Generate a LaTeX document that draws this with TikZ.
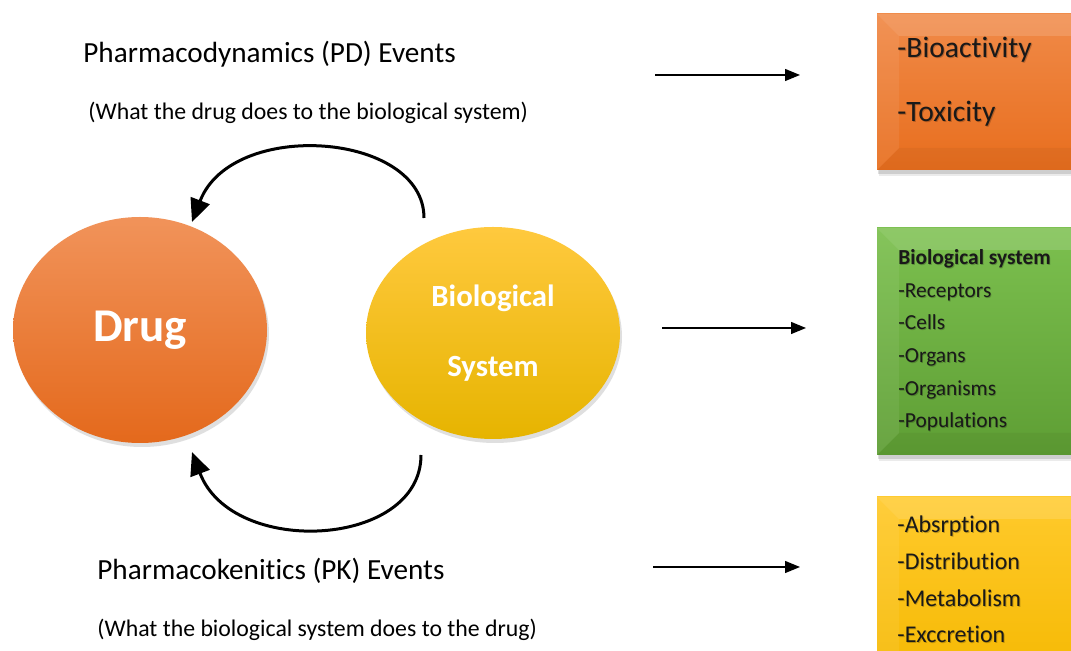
\documentclass[tikz,border=0pt]{standalone}
\usepackage{fontspec}
\setmainfont{Carlito}[RawFeature={-liga;-clig;-calt;-dlig}]
\usetikzlibrary{arrows.meta,shapes.geometric,shadows}

\definecolor{drugTop}{HTML}{F1935A}
\definecolor{drugMid}{HTML}{EE7A2E}
\definecolor{drugBot}{HTML}{E4691C}
\definecolor{bioTop}{HTML}{FFC93E}
\definecolor{bioMid}{HTML}{FFC000}
\definecolor{bioBot}{HTML}{E6B400}
\definecolor{pdTop}{HTML}{F08A48}
\definecolor{pdBot}{HTML}{E86E1E}
\definecolor{sysTop}{HTML}{7CC04F}
\definecolor{sysBot}{HTML}{5E9E34}
\definecolor{pkTop}{HTML}{FFCA2C}
\definecolor{pkBot}{HTML}{F5B800}

\tikzset{
  heading/.style={anchor=base west,inner sep=0pt,font=\fontsize{14.6}{17}\selectfont},
  subheading/.style={anchor=base west,inner sep=0pt,font=\fontsize{11.9}{14}\selectfont},
  flow/.style={line width=0.65pt,-{Triangle[length=7.5pt,width=6pt]}},
  cycle arrow/.style={line width=1.5pt,-{Triangle[length=11.5pt,width=10pt]}},
  blob/.style={ellipse,inner sep=0pt,text=white,
    drop shadow={opacity=0.25,shadow xshift=1pt,shadow yshift=-2pt}},
  boxtext/.style={anchor=base west,inner sep=0pt,text=black!90},
  boxshadow/.style={anchor=base west,inner sep=0pt,text=black,text opacity=0.22},
}

% Bevelled panel: x1 y1 x2 y2 (y grows downward), top colour, bottom colour
\newcommand{\bevelpanel}[6]{%
  \fill[black,opacity=0.08] (#1+2,#2+2) rectangle (#3+5,#4+6);
  \fill[black,opacity=0.12] (#1+1,#2+1) rectangle (#3+3,#4+4);
  \shade[top color=#5,bottom color=#6] (#1,#2) rectangle (#3,#4);
  \fill[white,opacity=0.14] (#1,#2) -- (#3,#2) -- (#3-22,#2+22) -- (#1+22,#2+22) -- cycle;
  \fill[white,opacity=0.07] (#1,#2) -- (#1+22,#2+22) -- (#1+22,#4-22) -- (#1,#4) -- cycle;
  \fill[white,opacity=0.04] (#3,#2) -- (#3-22,#2+22) -- (#3-22,#4-22) -- (#3,#4) -- cycle;
  \fill[black,opacity=0.04] (#1,#4) -- (#1+22,#4-22) -- (#3-22,#4-22) -- (#3,#4) -- cycle;
}

\begin{document}
\begin{tikzpicture}[x=0.5pt,y=-0.5pt]
\useasboundingbox (0,0) rectangle (1071,651);
\clip (0,0) rectangle (1071,651);
\fill[white] (0,0) rectangle (1071,651);

% headings on the left
\node[heading] (pdTitle) at (83,63) {Pharmacodynamics (PD) Events};
\node[subheading] (pdNote) at (88,120) {(What the drug does to the biological system)};
\node[heading] (pkTitle) at (97,580) {Pharmacokenitics (PK) Events};
\node[subheading] (pkNote) at (97,637) {(What the biological system does to the drug)};

% the two partners
\node[blob,minimum width=127pt,minimum height=113pt,
      top color=drugTop,middle color=drugMid,bottom color=drugBot,
      font=\fontsize{23.5}{26}\selectfont\bfseries] (drug) at (140,330) {Drug};
\node[blob,minimum width=127pt,minimum height=106pt,
      top color=bioTop,middle color=bioMid,bottom color=bioBot,
      align=center,font=\fontsize{15.4}{35}\selectfont\bfseries] (bio) at (493,333)
      {Biological\\System};

% cycle between drug and biological system
\coordinate (pdStart) at (424,218);
\coordinate (pdEnd) at (192,222);
\coordinate (pkStart) at (421,455);
\coordinate (pkEnd) at (192,452);
\draw[cycle arrow] (pdStart) .. controls (424,132) and (232,118) .. (pdEnd);
\draw[cycle arrow] (pkStart) .. controls (421,548) and (232,558) .. (pkEnd);

% outcome panels
\bevelpanel{877}{14}{1095}{170}{pdTop}{pdBot}
\bevelpanel{877}{228}{1095}{455}{sysTop}{sysBot}
\bevelpanel{877}{497}{1095}{690}{pkTop}{pkBot}

\begin{scope}[font=\fontsize{14.8}{17}\selectfont]
  \node[boxshadow] (bioactS) at (898,58.5) {-Bioactivity};
  \node[boxtext] (bioact) at (897,57.5) {-Bioactivity};
  \node[boxshadow] (toxS) at (898,123) {-Toxicity};
  \node[boxtext] (tox) at (897,122) {-Toxicity};
\end{scope}

\begin{scope}[font=\fontsize{10.7}{13}\selectfont]
  \node[boxshadow,font=\fontsize{10.7}{13}\selectfont\bfseries] (sysHeadS) at (898.8,265.8) {Biological system};
  \node[boxtext,font=\fontsize{10.7}{13}\selectfont\bfseries] (sysHead) at (898,265) {Biological system};
  \foreach \name/\txt/\yy in {rec/-Receptors/298, cel/-Cells/330, org/-Organs/363,
                              orgs/-Organisms/396, pop/-Populations/428} {
    \node[boxshadow] (\name S) at (898.8,\yy+0.8) {\txt};
    \node[boxtext] (\name) at (898,\yy) {\txt};
  }
\end{scope}

\begin{scope}[font=\fontsize{12}{14}\selectfont]
  \foreach \name/\txt/\yy in {abs/-Absrption/533, dis/-Distribution/570,
                              met/-Metabolism/607, exc/-Exccretion/643} {
    \node[boxshadow] (\name S) at (897.9,\yy+0.9) {\txt};
    \node[boxtext] (\name) at (897,\yy) {\txt};
  }
\end{scope}

% links to the panels
\coordinate (pdFrom) at (655,75);
\coordinate (pdTo) at (800,75);
\coordinate (sysFrom) at (662,328);
\coordinate (sysTo) at (806,328);
\coordinate (pkFrom) at (653,567);
\coordinate (pkTo) at (800,567);
\draw[flow] (pdFrom) -- (pdTo);
\draw[flow] (sysFrom) -- (sysTo);
\draw[flow] (pkFrom) -- (pkTo);
\end{tikzpicture}
\end{document}
